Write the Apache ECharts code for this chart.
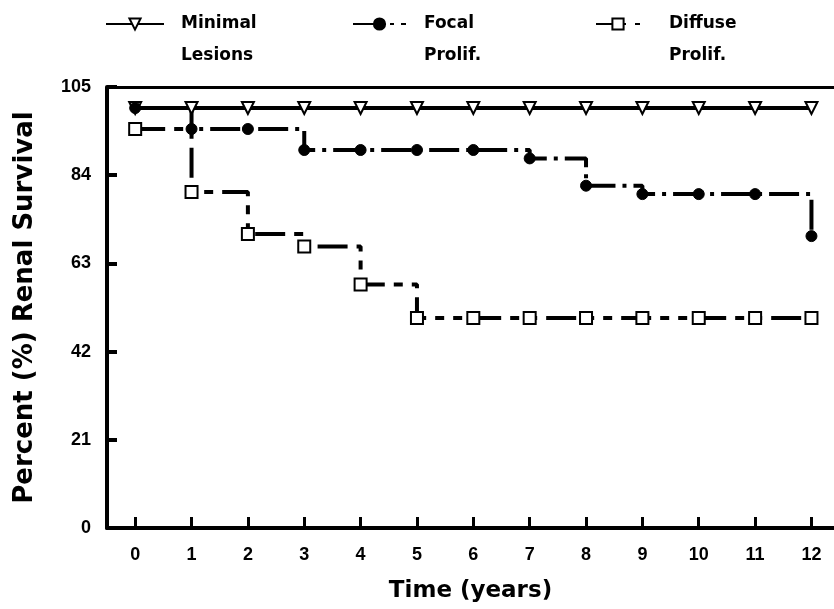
<!DOCTYPE html>
<html>
<head>
<meta charset="UTF-8"/>
<title>Renal Survival</title>
<script src="https://cdn.jsdelivr.net/npm/echarts@6/dist/echarts.min.js" type="text/javascript"></script>
<style>
html, body { margin: 0; padding: 0; background: #fff; }
#placeholder { width: 834px; height: 609px; }
</style>
</head>
<body>
<div id="placeholder"></div>
<script type="text/javascript">
// data
var years = [0, 1, 2, 3, 4, 5, 6, 7, 8, 9, 10, 11, 12];
var minimalLesions = [100, 100, 100, 100, 100, 100, 100, 100, 100, 100, 100, 100, 100];
var focalProlif = [100, 95, 95, 90, 90, 90, 90, 88, 81.5, 79.5, 79.5, 79.5, 69.5];
var diffuseProlif = [95, 80, 70, 67, 58, 50, 50, 50, 50, 50, 50, 50, 50];
var yTicks = [0, 21, 42, 63, 84, 105];
var seriesNames = ['Minimal Lesions', 'Focal Prolif.', 'Diffuse Prolif.'];

function pairs(vals) {
    return years.map(function (x, i) { return [x, vals[i]]; });
}

var boldFont = 'Liberation Sans';
var wideFont = 'DejaVu Sans';

function legendAt(name, left, width, padLeft) {
    return {
        data: [name],
        left: left,
        top: -24,
        padding: 0,
        itemWidth: width,
        itemHeight: 14,
        // blank first line keeps the icon level with the first word
        formatter: function (n) { return '\n' + n.replace(' ', '\n'); },
        textStyle: {
            fontFamily: wideFont,
            fontWeight: 'bold',
            fontSize: 17,
            lineHeight: 32,
            color: '#000',
            padding: [0, 0, 0, padLeft]
        },
        selectedMode: false
    };
}

var myChart = echarts.init(document.getElementById('placeholder'));
var option = {
    animation: false,
    backgroundColor: '#fff',
    legend: [
        legendAt(seriesNames[0], 105, 58, 12),
        legendAt(seriesNames[1], 352, 53, 13),
        legendAt(seriesNames[2], 595, 44, 24)
    ],
    grid: { left: 107, right: 0, top: 87, bottom: 81 },
    xAxis: [{
        type: 'value',
        min: -0.5,
        max: 12.4,
        name: 'Time (years)',
        nameLocation: 'middle',
        nameGap: 52,
        nameTextStyle: { fontFamily: wideFont, fontWeight: 'bold', fontSize: 23, color: '#000' },
        axisLine: { show: true, onZero: false, lineStyle: { color: '#000', width: 4 } },
        axisTick: { show: true, inside: true, length: 11, customValues: years, lineStyle: { color: '#000', width: 3 } },
        axisLabel: { customValues: years, margin: 18, fontFamily: boldFont, fontWeight: 'bold', fontSize: 18, color: '#000' },
        splitLine: { show: false }
    }, {
        type: 'value',
        position: 'top',
        min: -0.5,
        max: 12.4,
        axisLine: { show: true, onZero: false, lineStyle: { color: '#000', width: 3 } },
        axisTick: { show: false },
        axisLabel: { show: false },
        splitLine: { show: false }
    }],
    yAxis: {
        type: 'value',
        min: 0,
        max: 105,
        interval: 21,
        name: 'Percent (%) Renal Survival',
        nameLocation: 'middle',
        nameGap: 69,
        nameTextStyle: { fontFamily: wideFont, fontWeight: 'bold', fontSize: 26, color: '#000' },
        axisLine: { show: true, onZero: false, lineStyle: { color: '#000', width: 4 } },
        axisTick: { show: true, inside: true, length: 10, lineStyle: { color: '#000', width: 4 } },
        axisLabel: {
            margin: 16, fontFamily: boldFont, fontWeight: 'bold', fontSize: 18, color: '#000',
            padding: [8, 0, 0, 0],
            formatter: function (v) { return yTicks.indexOf(v) > -1 ? String(v) : ''; }
        },
        splitLine: { show: false }
    },
    series: [
        {
            name: seriesNames[0],
            type: 'line',
            step: 'end',
            data: pairs(minimalLesions),
            symbol: 'triangle',
            symbolRotate: 180,
            symbolSize: 12,
            lineStyle: { color: '#000', width: 4, type: 'solid' },
            itemStyle: { color: '#fff', borderColor: '#000', borderWidth: 2 }
        },
        {
            name: seriesNames[1],
            type: 'line',
            step: 'end',
            data: pairs(focalProlif),
            symbol: 'circle',
            symbolSize: 11,
            lineStyle: { color: '#000', width: 4, type: [30, 7, 4, 7] },
            itemStyle: { color: '#000', borderColor: '#000', borderWidth: 1 }
        },
        {
            name: seriesNames[2],
            type: 'line',
            step: 'end',
            data: pairs(diffuseProlif),
            symbol: 'rect',
            symbolSize: 12,
            lineStyle: { color: '#000', width: 4, type: [30, 9, 9, 9, 9, 9] },
            itemStyle: { color: '#fff', borderColor: '#000', borderWidth: 2 }
        }
    ]
};
if (option && typeof option === "object") {
    myChart.setOption(option, true);
}
</script>
</body>
</html>
